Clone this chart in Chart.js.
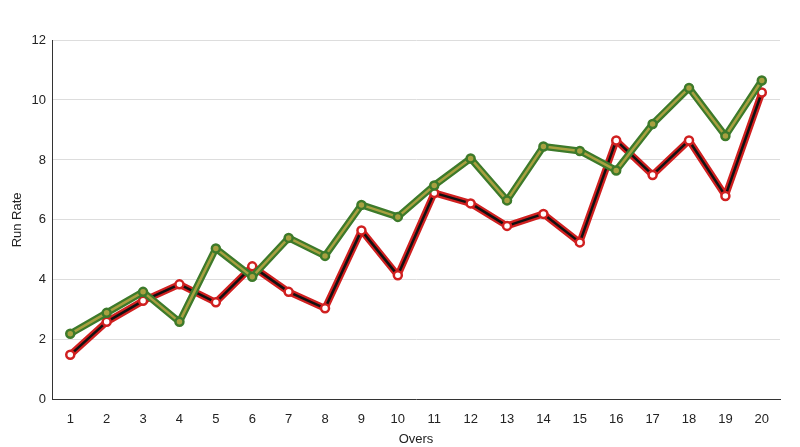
<!DOCTYPE html><html><head><script src="https://cdn.jsdelivr.net/npm/chart.js@4"></script>
<style>body{margin:0;background:#fff}#w{width:800px;height:447px}</style></head><body><div id="w"><canvas id="c"></canvas></div>
<script>
const overs=["1","2","3","4","5","6","7","8","9","10","11","12","13","14","15","16","17","18","19","20"];
const greenRR=[2.2,2.9,3.6,2.6,5.05,4.1,5.4,4.8,6.5,6.1,7.15,8.05,6.65,8.45,8.3,7.65,9.2,10.4,8.8,10.65];
const redRR=[1.5,2.6,3.3,3.85,3.25,4.45,3.6,3.05,5.65,4.15,6.9,6.55,5.8,6.2,5.25,8.65,7.5,8.65,6.8,10.25];
const base={fill:false,tension:0,borderJoinStyle:'round',borderCapStyle:'round'};
new Chart(document.getElementById('c'),{type:'line',data:{labels:overs,datasets:[
{...base,data:redRR,borderColor:'#d02020',borderWidth:7,pointRadius:0,order:4},
{...base,data:redRR,borderColor:'#111',borderWidth:2.5,pointRadius:4,pointBorderWidth:2.5,pointBorderColor:'#d02020',pointBackgroundColor:'#fff',order:3},
{...base,data:greenRR,borderColor:'#3d7a2a',borderWidth:7,pointRadius:0,order:2},
{...base,data:greenRR,borderColor:'#a8a040',borderWidth:2.5,pointRadius:4,pointBorderWidth:2.5,pointBorderColor:'#3d7a2a',pointBackgroundColor:'#a8a040',order:1}
]},options:{responsive:true,maintainAspectRatio:false,animation:false,
layout:{padding:{left:10,right:20,top:40,bottom:0}},
plugins:{legend:{display:false},tooltip:{enabled:false}},
scales:{x:{offset:true,grid:{display:false},border:{color:'#333'},ticks:{color:'#222',font:{family:'Helvetica, Arial, sans-serif',size:13},padding:4},title:{display:true,text:'Overs',color:'#222',font:{size:13},padding:{top:0,bottom:0}}},
y:{min:0,max:12,ticks:{stepSize:2,color:'#222',font:{size:13},padding:6},grid:{color:'#ddd',drawTicks:false},border:{color:'#333',display:true},title:{display:true,text:'Run Rate',color:'#222',font:{size:13},padding:{top:0,bottom:0}}}}}});
</script></body></html>
